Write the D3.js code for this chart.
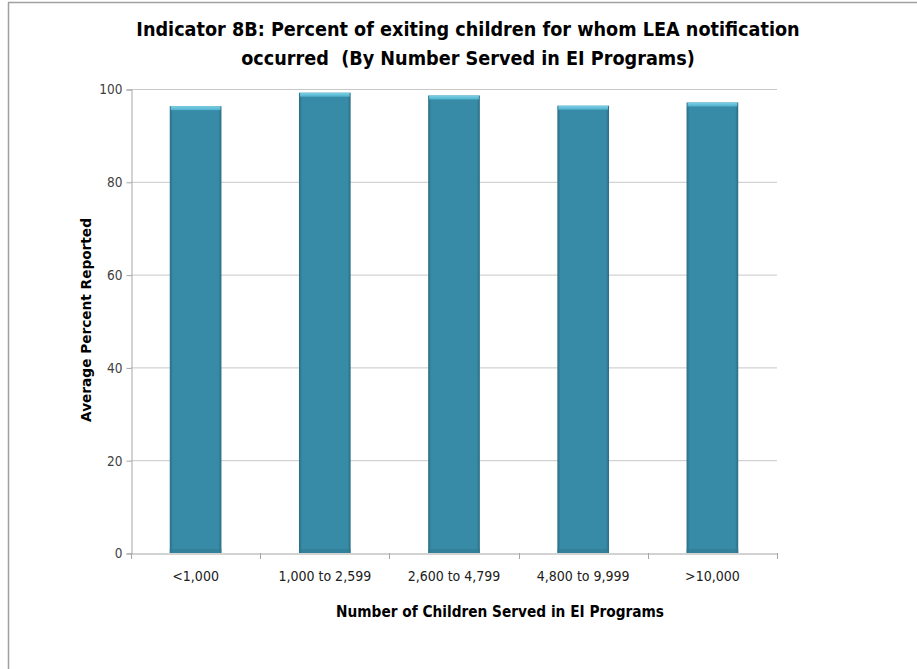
<!DOCTYPE html>
<html><head><meta charset="utf-8">
<script src="https://cdn.jsdelivr.net/npm/d3@7"></script>
<style>body{margin:0;background:#fff}svg{display:block}</style>
</head><body>
<script>
const categories = ["<1,000", "1,000 to 2,599", "2,600 to 4,799", "4,800 to 9,999", ">10,000"];
const values = [96.3, 99.2, 98.6, 96.4, 97.1];
const yTicks = [0, 20, 40, 60, 80, 100];
const titleLines = ["Indicator 8B: Percent of exiting children for whom LEA notification", "occurred  (By Number Served in EI Programs)"];
const xTitle = "Number of Children Served in EI Programs";
const yTitle = "Average Percent Reported";

const W = 917, H = 669;
const m = {left: 131, right: 140, top: 89, bottom: 116};
const narrow = "'Liberation Sans Narrow', 'DejaVu Sans Condensed', 'Open Sans', sans-serif";
const svg = d3.select("body").append("svg").attr("width", W).attr("height", H);

// frame lines (left and top)
svg.append("line").attr("x1",8.5).attr("x2",8.5).attr("y1",2.5).attr("y2",H).attr("stroke","#a0a0a0").attr("stroke-width",1.5);
svg.append("line").attr("x1",8).attr("x2",W).attr("y1",2.5).attr("y2",2.5).attr("stroke","#a0a0a0").attr("stroke-width",1.5);

const x = d3.scaleBand().domain(categories).range([m.left, W - m.right]).paddingInner(0.6).paddingOuter(0.3);
const xb = d3.scaleBand().domain(categories).range([m.left, W - m.right]);
const y = d3.scaleLinear().domain([0, 100]).range([H - m.bottom, m.top]);

const defs = svg.append("defs");
const g1 = defs.append("linearGradient").attr("id","barg").attr("x1","0").attr("x2","1").attr("y1","0").attr("y2","0");
g1.append("stop").attr("offset","0").attr("stop-color","#2a6c82");
g1.append("stop").attr("offset","0.06").attr("stop-color","#378ba6");
g1.append("stop").attr("offset","0.94").attr("stop-color","#378ba6");
g1.append("stop").attr("offset","1").attr("stop-color","#2a6c82");
const g2 = defs.append("linearGradient").attr("id","topg").attr("x1","0").attr("x2","0").attr("y1","0").attr("y2","1");
g2.append("stop").attr("offset","0").attr("stop-color","#7dd0e6");
g2.append("stop").attr("offset","1").attr("stop-color","#4fb1cd");

// gridlines
svg.append("g").selectAll("line").data(yTicks.filter(d => d > 0)).join("line")
  .attr("x1", m.left).attr("x2", W - m.right)
  .attr("y1", d => y(d) + 0.5).attr("y2", d => y(d) + 0.5)
  .attr("stroke", "#c8c8c8").attr("stroke-width", 1);

// y axis
const yAxis = svg.append("g").attr("transform", `translate(${m.left + 0.5},0.5)`)
  .call(d3.axisLeft(y).tickValues(yTicks).tickSize(5).tickPadding(4));
yAxis.select(".domain").attr("stroke", "#a6a6a6");
yAxis.selectAll(".tick line").attr("stroke", "#a6a6a6");
yAxis.selectAll("text").attr("font-family", narrow).attr("font-size", 13.5).attr("fill", "#404040");

// x axis
const xAxis = svg.append("g").attr("transform", `translate(0,${H - m.bottom + 0.5})`)
  .call(d3.axisBottom(xb).tickSize(0).tickPadding(18));
xAxis.select(".domain").attr("stroke", "#a6a6a6");
xAxis.selectAll("text").attr("font-family", narrow).attr("font-size", 14).attr("fill", "#202020");
// category boundary ticks
const bounds = categories.map(c => xb(c)).concat([W - m.right]);
svg.append("g").selectAll("line").data(bounds).join("line")
  .attr("x1", d => Math.round(d) + 0.5).attr("x2", d => Math.round(d) + 0.5)
  .attr("y1", H - m.bottom).attr("y2", H - m.bottom + 6)
  .attr("stroke", "#a6a6a6");

// bars
const bars = svg.append("g").selectAll("g").data(values).join("g");
bars.append("rect")
  .attr("x", (d, i) => x(categories[i])).attr("width", x.bandwidth())
  .attr("y", d => y(d)).attr("height", d => y(0) - y(d))
  .attr("fill", "url(#barg)");
bars.append("rect")
  .attr("x", (d, i) => x(categories[i]) + 1).attr("width", x.bandwidth() - 2)
  .attr("y", d => y(d)).attr("height", 4)
  .attr("fill", "url(#topg)");
bars.append("rect")
  .attr("x", (d, i) => x(categories[i])).attr("width", x.bandwidth())
  .attr("y", y(0) - 4).attr("height", 4)
  .attr("fill", "#2f7a92").attr("opacity", 0.6);

// fit helper
function fitText(sel, target) {
  const len = sel.node().getComputedTextLength();
  const fs = parseFloat(sel.attr("font-size"));
  sel.attr("font-size", fs * target / len);
}

// title
titleLines.forEach((t, i) => {
  const tt = svg.append("text").attr("x", 468).attr("y", 36 + i * 29)
    .attr("text-anchor", "middle").attr("font-family", narrow)
    .attr("font-weight", "bold").attr("font-size", 20).attr("fill", "#000")
    .attr("xml:space", "preserve").style("white-space", "pre").text(t);
  fitText(tt, i === 0 ? 664 : 454);
});

// axis titles
const xt = svg.append("text").attr("x", 500).attr("y", 617).attr("text-anchor", "middle")
  .attr("font-family", narrow).attr("font-weight", "bold").attr("font-size", 14).text(xTitle);
fitText(xt, 328);
const yt = svg.append("text").attr("transform", "translate(91,320) rotate(-90)").attr("text-anchor", "middle")
  .attr("font-family", "DejaVu Sans, sans-serif").attr("font-weight", "bold").attr("font-size", 13).text(yTitle);
fitText(yt, 204);
</script>
</body></html>
